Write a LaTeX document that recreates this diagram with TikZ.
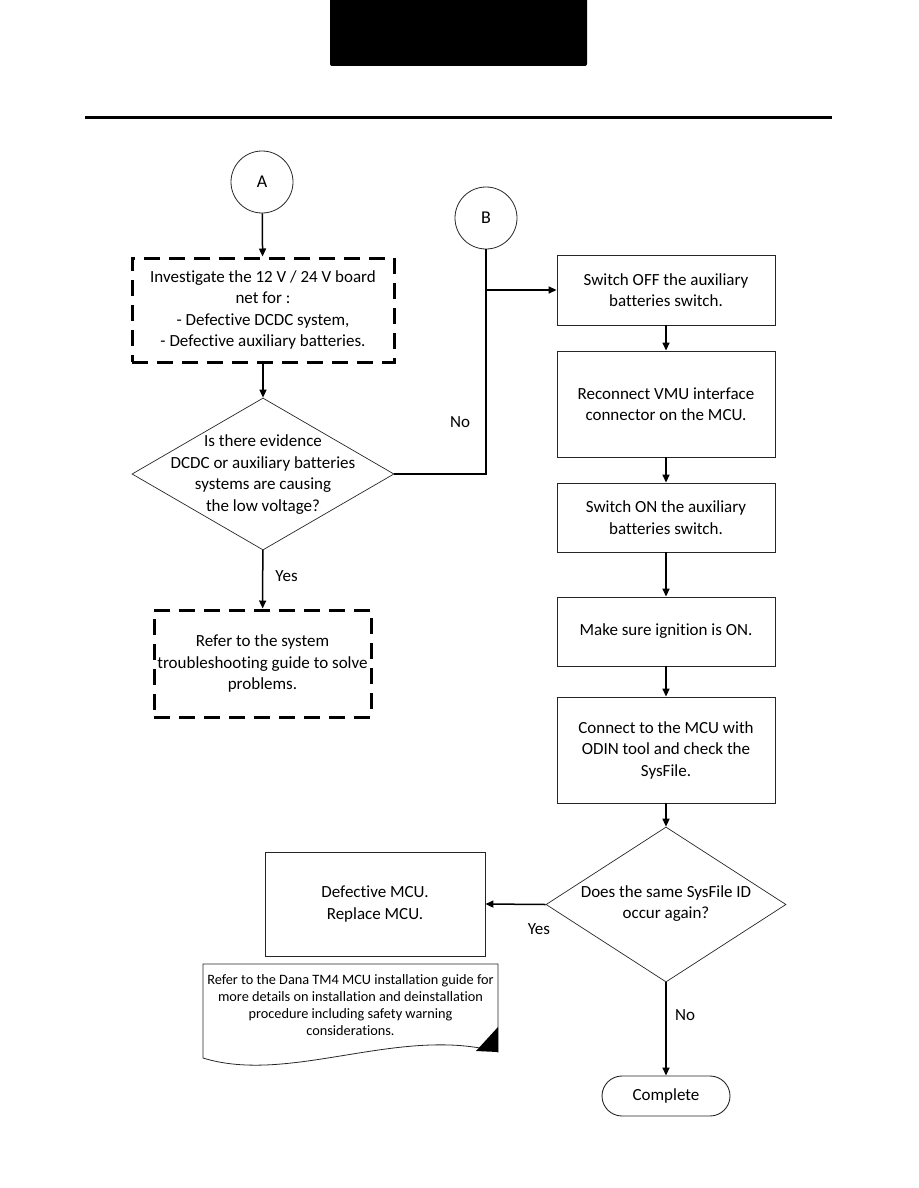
\documentclass[tikz,border=0pt]{standalone}
\usepackage{fontspec}
\setmainfont{Carlito}[Ligatures=NoCommon]
\usetikzlibrary{arrows.meta,shapes.geometric}
\begin{document}
\begin{tikzpicture}[x=1pt,y=-1pt,
  box/.style={draw=black!85, line width=0.9pt, align=center, inner sep=0pt, font=\fontsize{17}{21.5}\selectfont},
  dbox/.style={draw=black, line width=3pt, dash pattern=on 16pt off 9pt, align=center, inner sep=0pt, font=\fontsize{17}{21.5}\selectfont},
  conn/.style={draw=black!85, circle, minimum size=62pt, line width=0.8pt, inner sep=0pt, font=\fontsize{18}{20}\selectfont},
  dia/.style={diamond, draw=black!85, line width=0.7pt, inner sep=0pt},
  txt/.style={align=center, inner sep=0pt, font=\fontsize{17}{21.5}\selectfont},
  lbl/.style={inner sep=0pt, font=\fontsize{17}{19}\selectfont},
  arr/.style={-{Triangle[length=8pt,width=7pt]}, line width=1.5pt},
  ln/.style={line width=1.5pt}
]
\useasboundingbox (0,0) rectangle (918,1188);
% header
\fill[black, rounded corners=2pt] (330,-5) rectangle (587,66);
\draw[line width=3pt] (85,118) -- (832,118);

% left column
\node[conn] (A) at (262,182) {A};
\node[dbox, minimum width=262pt, minimum height=104pt] (inv) at (263,310)
  {Investigate the 12 V / 24 V board\\net for :\\- Defective DCDC system,\\- Defective auxiliary batteries.};
\node[dia, minimum width=262pt, minimum height=152pt] (q1) at (263,474) {};
\node[txt] (q1t) at (263,474.5) {Is there evidence\\DCDC or auxiliary batteries\\systems are causing\\the low voltage?};
\node[dbox, minimum width=217pt, minimum height=107pt] (ref) at (262.5,663.5)
  {Refer to the system\\troubleshooting guide to solve\\problems.};

% B connector
\node[conn] (B) at (486,218) {B};

% right column
\node[box, minimum width=218pt, minimum height=70pt] (s1) at (666,290) {Switch OFF the auxiliary\\batteries switch.};
\node[box, minimum width=218pt, minimum height=106pt] (s2) at (666,404) {Reconnect VMU interface\\connector on the MCU.};
\node[box, minimum width=218pt, minimum height=69pt] (s3) at (666,517.5) {Switch ON the auxiliary\\batteries switch.};
\node[box, minimum width=218pt, minimum height=69pt] (s4) at (666,631.5) {Make sure ignition is ON.};
\node[box, minimum width=218pt, minimum height=106pt] (s5) at (666,750) {Connect to the MCU with\\ODIN tool and check the\\SysFile.};
\node[dia, minimum width=240pt, minimum height=155pt] (q2) at (666,904.5) {};
\node[txt] (q2t) at (666,903.5) {Does the same SysFile ID\\occur again?};
\node[box, rounded corners=20pt, minimum width=128pt, minimum height=40pt] (done) at (666,1096) {Complete};
\node[box, minimum width=220pt, minimum height=104pt] (mcu) at (375,904) {Defective MCU.\\Replace MCU.};

% document shape
\draw[black!85, line width=0.8pt] (203,964) -- (498,964) -- (498,1052)
  .. controls (400,1025) and (290,1085) .. (203,1058) -- cycle;
\fill[black] (476,1051) -- (498,1027) -- (498,1052) -- cycle;
\node[align=center, inner sep=0pt, font=\fontsize{14.3}{17}\selectfont] (doc) at (350.5,1005)
  {Refer to the Dana TM4 MCU installation guide for\\more details on installation and deinstallation\\procedure including safety warning\\considerations.};

% connectors
\draw[arr] (A) -- (inv);
\draw[arr] (inv) -- (q1);
\draw[arr] (q1) -- node[lbl, pos=0.45, right=12pt] (yes1) {Yes} (ref);
\coordinate (jB) at (B.south |- s1.west);
\draw[ln] (q1.east) -| (B.south);
\draw[arr] (jB) -- (s1.west);
\node[lbl] (no1) at (460,422) {No};
\draw[arr] (s1) -- (s2);
\draw[arr] (s2) -- (s3);
\draw[arr] (s3) -- (s4);
\draw[arr] (s4) -- (s5);
\draw[arr] (s5) -- (q2);
\draw[arr] (q2.south) -- (done);
\node[lbl] (no2) at (685,1015) {No};
\draw[arr] (q2.west) -- (mcu.east);
\node[lbl] (yes2) at (539,929) {Yes};
\end{tikzpicture}
\end{document}
